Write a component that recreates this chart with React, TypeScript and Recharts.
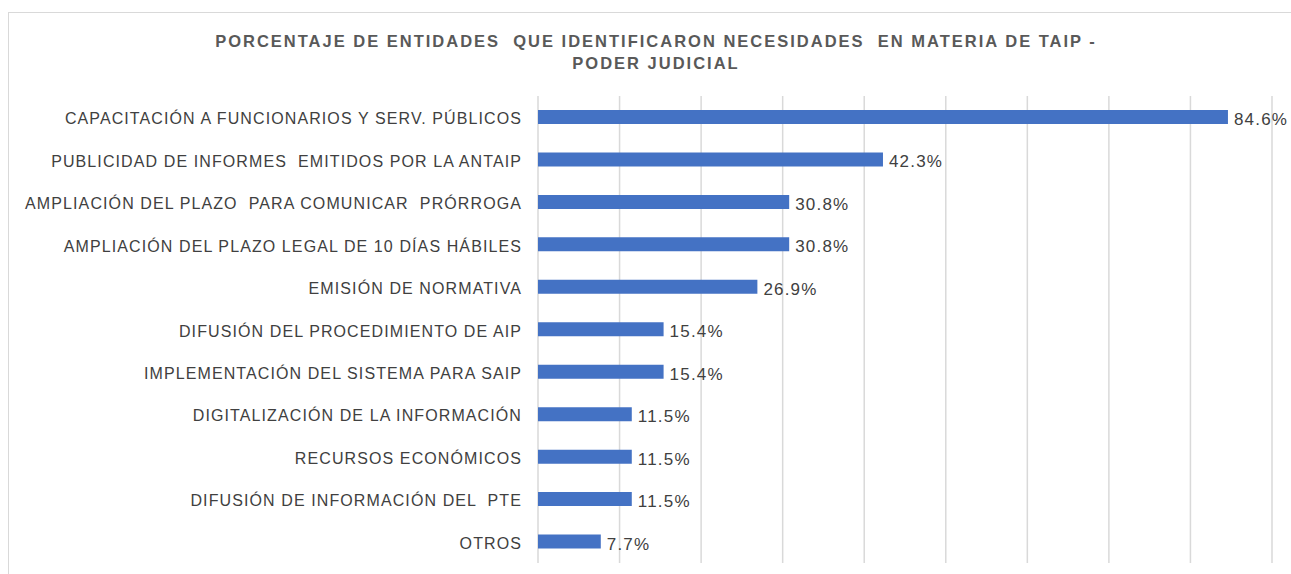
import React from "react";
import {
  BarChart,
  Bar,
  XAxis,
  YAxis,
  CartesianGrid,
  LabelList,
} from "recharts";

const categories = [
  "CAPACITACIÓN A FUNCIONARIOS Y SERV. PÚBLICOS",
  "PUBLICIDAD DE INFORMES  EMITIDOS POR LA ANTAIP",
  "AMPLIACIÓN DEL PLAZO  PARA COMUNICAR  PRÓRROGA",
  "AMPLIACIÓN DEL PLAZO LEGAL DE 10 DÍAS HÁBILES",
  "EMISIÓN DE NORMATIVA",
  "DIFUSIÓN DEL PROCEDIMIENTO DE AIP",
  "IMPLEMENTACIÓN DEL SISTEMA PARA SAIP",
  "DIGITALIZACIÓN DE LA INFORMACIÓN",
  "RECURSOS ECONÓMICOS",
  "DIFUSIÓN DE INFORMACIÓN DEL  PTE",
  "OTROS",
];

const percentages = [84.6, 42.3, 30.8, 30.8, 26.9, 15.4, 15.4, 11.5, 11.5, 11.5, 7.7];

const xTicks = [0, 10, 20, 30, 40, 50, 60, 70, 80, 90];

const titleLines = [
  "PORCENTAJE DE ENTIDADES  QUE IDENTIFICARON NECESIDADES  EN MATERIA DE TAIP -",
  "PODER JUDICIAL",
];

const data = categories.map((name, i) => ({ name, value: percentages[i] }));

const FONT = "'Liberation Sans', Arial, sans-serif";

const CategoryTick = (props: any) => {
  const { x, y, payload } = props;
  return (
    <text
      x={x}
      y={y}
      dy={7}
      textAnchor="end"
      fill="#404040"
      fontSize={16}
      letterSpacing={1.1}
      fontFamily={FONT}
      style={{ whiteSpace: "pre" }}
    >
      {payload.value}
    </text>
  );
};

export default function App() {
  return (
    <div
      style={{
        position: "fixed",
        left: 8,
        top: 12,
        width: 1282,
        height: 561,
        borderLeft: "1px solid #d9d9d9",
        borderTop: "1px solid #d9d9d9",
        background: "#fff",
      }}
    >
      <BarChart
        width={1282}
        height={561}
        data={data}
        layout="vertical"
        margin={{ top: 83, right: 19, bottom: 11, left: 0 }}
        barCategoryGap={0}
      >
        <text
          x={647}
          y={34}
          textAnchor="middle"
          fontSize={16.5}
          letterSpacing={2}
          fontWeight="bold"
          fill="#595959"
          fontFamily={FONT}
          style={{ whiteSpace: "pre" }}
        >
          {titleLines[0]}
        </text>
        <text
          x={647}
          y={56}
          textAnchor="middle"
          fontSize={16.5}
          letterSpacing={2}
          fontWeight="bold"
          fill="#595959"
          fontFamily={FONT}
        >
          {titleLines[1]}
        </text>
        <CartesianGrid horizontal={false} stroke="#d9d9d9" strokeWidth={1.5} />
        <XAxis type="number" domain={[0, 90]} ticks={xTicks} hide />
        <YAxis
          type="category"
          dataKey="name"
          width={529}
          tickLine={false}
          axisLine={false}
          tickMargin={10}
          tick={<CategoryTick />}
          interval={0}
        />
        <Bar dataKey="value" fill="#4472C4" barSize={14} isAnimationActive={false}>
          <LabelList
            dataKey="value"
            position="right"
            offset={6}
            fill="#404040"
            fontSize={17}
            letterSpacing={1.2}
            fontFamily={FONT}
            dy={2}
            formatter={(v: any) => `${Number(v).toFixed(1)}%`}
          />
        </Bar>
      </BarChart>
    </div>
  );
}
